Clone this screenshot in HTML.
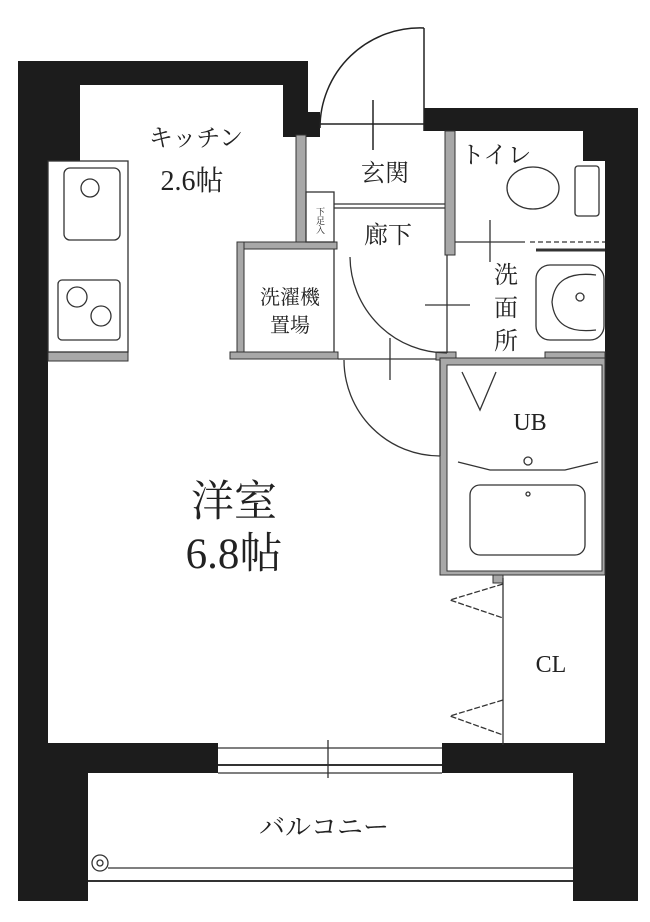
<!DOCTYPE html>
<html><head><meta charset="utf-8"><style>
html,body{margin:0;padding:0;background:#fff}
svg{display:block}
text{font-family:"Liberation Serif","Noto Serif CJK SC","Noto Sans CJK JP",serif;fill:#222}
</style></head><body>
<svg width="650" height="922" viewBox="0 0 650 922" xmlns="http://www.w3.org/2000/svg">
<rect width="650" height="922" fill="#fff"/>
<g fill="#1c1c1c">
<rect x="18" y="61" width="290" height="24"/>
<rect x="18" y="61" width="62" height="100"/>
<rect x="18" y="61" width="30" height="840"/>
<rect x="283" y="61" width="25" height="76"/>
<rect x="308" y="112" width="12" height="25"/>
<rect x="424" y="108" width="214" height="23"/>
<rect x="583" y="108" width="55" height="53"/>
<rect x="605" y="108" width="33" height="793"/>
<rect x="48" y="743" width="170" height="30"/>
<rect x="442" y="743" width="170" height="30"/>
<rect x="18" y="773" width="70" height="128"/>
<rect x="573" y="773" width="65" height="128"/>
</g>
<g stroke="#222" fill="none" stroke-width="1.5">
<line x1="424" y1="28" x2="424" y2="131"/>
<path d="M424 28 A100 100 0 0 0 320 128"/>
<line x1="320" y1="124" x2="424" y2="124"/>
<line x1="373" y1="100" x2="373" y2="150"/>
</g>
<g fill="#a8a8a8" stroke="#333" stroke-width="1">
<rect x="296" y="135" width="10" height="112"/>
<rect x="237" y="242" width="100" height="7"/>
<rect x="237" y="242" width="7" height="116"/>
<rect x="230" y="352" width="108" height="7"/>
<rect x="445" y="131" width="10" height="124"/>
<rect x="48" y="352" width="80" height="9"/>
<rect x="436" y="352" width="20" height="8"/>
<rect x="545" y="352" width="60" height="8"/>
<rect x="440" y="358" width="165" height="217"/>
<rect x="493" y="575" width="10" height="8"/>
</g>
<rect x="447" y="365" width="155" height="206" fill="#fff" stroke="#333"/>
<g stroke="#333" fill="none" stroke-width="1.3">
<rect x="306" y="192" width="28" height="50"/>
<line x1="334" y1="204" x2="445" y2="204"/>
<line x1="334" y1="208" x2="445" y2="208"/>
<line x1="334" y1="249" x2="334" y2="352"/>
<line x1="447" y1="255" x2="447" y2="353"/>
<path d="M350 257 A97 97 0 0 0 447 353"/>
<line x1="425" y1="305" x2="470" y2="305"/>
<line x1="440" y1="360" x2="440" y2="456"/>
<path d="M344 360 A96 96 0 0 0 440 456"/>
<line x1="390" y1="338" x2="390" y2="380"/>
<line x1="338" y1="359" x2="436" y2="359"/>
<line x1="455" y1="242" x2="525" y2="242"/>
<line x1="530" y1="242" x2="605" y2="242" stroke-dasharray="5 3"/>
<line x1="536" y1="250" x2="605" y2="250" stroke-width="3"/>
<line x1="490" y1="220" x2="490" y2="262"/>
<ellipse cx="533" cy="188" rx="26" ry="21"/>
<rect x="575" y="166" width="24" height="50" rx="3"/>
<rect x="536" y="265" width="68" height="75" rx="14"/>
<path d="M596 275 Q555 270 552 302 Q555 335 596 330"/>
<circle cx="580" cy="297" r="4"/>
<rect x="48" y="161" width="80" height="191" fill="#fff"/>
<rect x="64" y="168" width="56" height="72" rx="6"/>
<circle cx="90" cy="188" r="9"/>
<rect x="58" y="280" width="62" height="60" rx="4"/>
<circle cx="77" cy="297" r="10"/>
<circle cx="101" cy="316" r="10"/>
<path d="M462 372 L480 410 L496 372"/>
<path d="M458 462 L490 470 L565 470 L598 462"/>
<circle cx="528" cy="461" r="4"/>
<rect x="470" y="485" width="115" height="70" rx="10"/>
<circle cx="528" cy="494" r="2"/>
<line x1="503" y1="578" x2="503" y2="745"/>
<path d="M503 584 L450 600 L503 618" stroke-dasharray="6 2"/>
<path d="M503 700 L450 716 L503 735" stroke-dasharray="6 2"/>
<line x1="218" y1="748" x2="442" y2="748"/>
<line x1="218" y1="765" x2="442" y2="765" stroke-width="2"/>
<line x1="218" y1="773" x2="442" y2="773"/>
<line x1="328" y1="740" x2="328" y2="778"/>
<line x1="108" y1="868" x2="573" y2="868"/>
<line x1="88" y1="881" x2="573" y2="881" stroke-width="2"/>
<circle cx="100" cy="863" r="8"/>
<circle cx="100" cy="863" r="3"/>
</g>
<g font-size="24">
<text x="196" y="146" text-anchor="middle">キッチン</text>
<text x="192" y="190" text-anchor="middle" font-size="28">2.6帖</text>
<text x="385" y="181" text-anchor="middle">玄関</text>
<text x="388" y="243" text-anchor="middle">廊下</text>
<text x="496" y="163" text-anchor="middle">トイレ</text>
<text x="506" y="283" text-anchor="middle">洗</text>
<text x="506" y="316" text-anchor="middle">面</text>
<text x="506" y="349" text-anchor="middle">所</text>
<text x="290" y="304" text-anchor="middle" font-size="20">洗濯機</text>
<text x="290" y="332" text-anchor="middle" font-size="20">置場</text>
<text x="530" y="430" text-anchor="middle">UB</text>
<text x="551" y="672" text-anchor="middle">CL</text>
<text x="324" y="836" text-anchor="middle" font-size="26">バルコニー</text>
</g>
<text x="320" y="207" font-size="9" writing-mode="tb">下足入</text>
<text x="234" y="516" text-anchor="middle" font-size="43">洋室</text>
<text x="234" y="568" text-anchor="middle" font-size="43">6.8帖</text>
</svg>
</body></html>
